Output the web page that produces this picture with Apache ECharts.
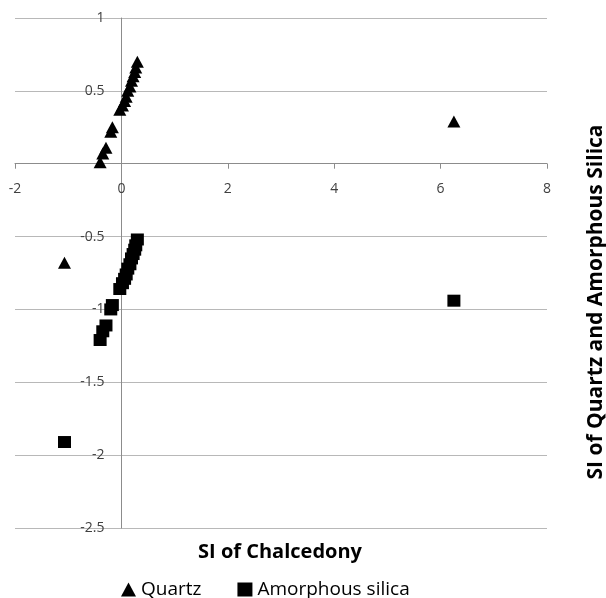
<!DOCTYPE html>
<html>
<head>
<meta charset="utf-8">
<script src="https://cdn.jsdelivr.net/npm/echarts/dist/echarts.min.js"></script>
<style>
  html, body { margin: 0; padding: 0; background: #fff; }
  #chart { width: 606px; height: 598px; }
</style>
</head>
<body>
<div id="chart"></div>
<script>
// Saturation index of chalcedony (x), shared by both series
var chalcedonySI = [0.30, 0.27, 0.25, 0.22, 0.19, 0.16, 0.12, 0.09, 0.06, 0.02, -0.03,
                    -0.17, -0.20, -0.29, -0.35, -0.40, -1.07, 6.25];
// Saturation index of quartz
var quartzSI = [0.70, 0.66, 0.63, 0.60, 0.57, 0.53, 0.50, 0.46, 0.43, 0.40, 0.37,
                0.25, 0.22, 0.11, 0.07, 0.01, -0.68, 0.29];
// Saturation index of amorphous silica
var amorphousSI = [-0.52, -0.56, -0.59, -0.62, -0.65, -0.69, -0.72, -0.76, -0.79, -0.82, -0.86,
                   -0.97, -1.00, -1.11, -1.15, -1.21, -1.91, -0.94];

var seriesNames = ['Quartz', 'Amorphous silica'];
var xTitle = 'SI of Chalcedony';
var yTitle = 'SI of Quartz and Amorphous Silica';

var X_MIN = -2, X_MAX = 8, Y_MIN = -2.5, Y_MAX = 1;
var GRID = { left: 15, right: 59, top: 18, bottom: 70 };
var W = 606, H = 598;

function pairs(xs, ys) {
  return xs.map(function (x, i) { return [x, ys[i]]; });
}

// Axes cross at the origin: shift them from the grid edges to the zero lines
var plotW = W - GRID.left - GRID.right;
var plotH = H - GRID.top - GRID.bottom;
var yAxisShift = (0 - X_MIN) / (X_MAX - X_MIN) * plotW;
var xAxisShift = (0 - Y_MIN) / (Y_MAX - Y_MIN) * plotH;

var FONT = '"Open Sans", "Liberation Sans", sans-serif';
var chart = echarts.init(document.getElementById('chart'), null, { renderer: 'canvas' });

chart.setOption({
  animation: false,
  backgroundColor: '#ffffff',
  grid: {
    left: GRID.left, right: GRID.right, top: GRID.top, bottom: GRID.bottom,
    containLabel: false, outerBoundsMode: 'none'
  },
  xAxis: {
    type: 'value', position: 'bottom', offset: -xAxisShift,
    min: X_MIN, max: X_MAX, interval: 2,
    axisLine: { show: true, onZero: false, lineStyle: { color: '#8c8c8c', width: 1 } },
    axisTick: { show: true, length: 5, lineStyle: { color: '#8c8c8c' } },
    axisLabel: { color: '#404040', fontFamily: FONT, fontSize: 14, margin: 18 },
    splitLine: { show: false }
  },
  yAxis: {
    type: 'value', position: 'left', offset: -yAxisShift,
    min: Y_MIN, max: Y_MAX, interval: 0.5,
    axisLine: { show: true, onZero: false, lineStyle: { color: '#8c8c8c', width: 1 } },
    axisTick: { show: false },
    axisLabel: {
      color: '#404040', fontFamily: FONT, fontSize: 14, margin: 17,
      formatter: function (v) { return v === 0 ? '' : String(v); }
    },
    splitLine: { show: true, lineStyle: { color: '#b8b8b8', width: 1 } }
  },
  legend: {
    left: 121, top: 580, padding: 0,
    itemWidth: 15, itemHeight: 14, itemGap: 36,
    textStyle: { color: '#000', fontFamily: FONT, fontSize: 19 },
    data: [
      { name: seriesNames[0], icon: 'triangle' },
      { name: seriesNames[1], icon: 'rect' }
    ]
  },
  graphic: [
    {
      type: 'text', x: 280, y: 552,
      style: {
        text: xTitle, fill: '#000', font: 'bold 20px ' + FONT,
        textAlign: 'center', textVerticalAlign: 'middle'
      }
    },
    {
      type: 'text',
      x: 596, y: 302, rotation: Math.PI / 2,
      style: {
        text: yTitle, fill: '#000', font: 'bold 21px ' + FONT,
        textAlign: 'center', textVerticalAlign: 'middle'
      }
    }
  ],
  series: [
    {
      name: seriesNames[0], type: 'scatter',
      symbol: 'triangle', symbolSize: [13, 12],
      itemStyle: { color: '#000', opacity: 1 },
      data: pairs(chalcedonySI, quartzSI)
    },
    {
      name: seriesNames[1], type: 'scatter',
      symbol: 'rect', symbolSize: [13, 12],
      itemStyle: { color: '#000', opacity: 1 },
      data: pairs(chalcedonySI, amorphousSI)
    }
  ]
});
</script>
</body>
</html>
